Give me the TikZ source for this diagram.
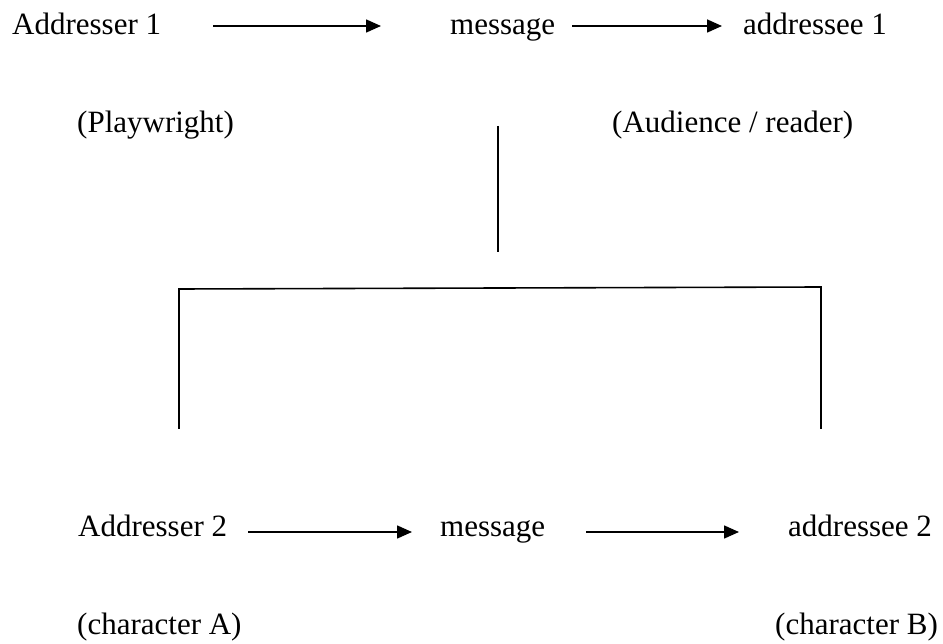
\documentclass[tikz,border=0pt]{standalone}
\usepackage{fontspec}
\setmainfont{Liberation Serif}
\usetikzlibrary{arrows.meta}
\begin{document}
\begin{tikzpicture}[x=1pt,y=-1pt,
  lbl/.style={anchor=base west,inner sep=0pt,font=\fontsize{31}{37}\selectfont},
  arr/.style={line width=1.6pt,-{Triangle[length=15pt,width=13pt]}},
  ln/.style={line width=1.6pt}]
\useasboundingbox (0,0) rectangle (943,644);
% row 1
\node[lbl] (a1) at (12,35) {Addresser 1};
\node[lbl] (m1) at (450,35) {message};
\node[lbl] (d1) at (743,35) {addressee 1};
% row 2
\node[lbl] (p1) at (77,133) {(Playwright)};
\node[lbl] (p2) at (612,133) {(Audience / reader)};
% row 3
\node[lbl] (a2) at (78,536) {Addresser 2};
\node[lbl] (m2) at (440,536) {message};
\node[lbl] (d2) at (788,536) {addressee 2};
% row 4
\node[lbl] (c1) at (77,634) {(character A)};
\node[lbl] (c2) at (775,634) {(character B)};
% arrows
\draw[arr] ([xshift=52pt,yshift=9pt]a1.base east) -- ([xshift=-69pt,yshift=9pt]m1.base west);
\draw[arr] ([xshift=17pt,yshift=9pt]m1.base east) -- ([xshift=-21pt,yshift=9pt]d1.base west);
\draw[arr] ([xshift=21pt,yshift=4pt]a2.base east) -- ([xshift=-28pt,yshift=4pt]m2.base west);
\draw[arr] ([xshift=41pt,yshift=4pt]m2.base east) -- ([xshift=-49pt,yshift=4pt]d2.base west);
% tree lines
\coordinate (vt) at (498,126);
\coordinate (vb) at (498,252);
\coordinate (hl) at (179,289);
\coordinate (hr) at (821,287);
\coordinate (ll) at (179,428);
\coordinate (rl) at (821,428);
\draw[ln] (vt) -- (vb);
\draw[ln,line cap=rect] (ll) -- (hl) -- (hr) -- (rl);
\end{tikzpicture}
\end{document}
